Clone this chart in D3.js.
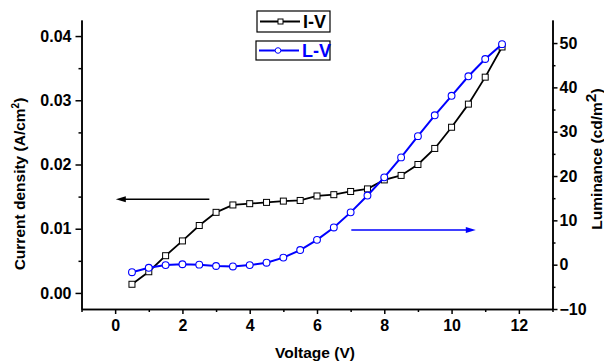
<!DOCTYPE html>
<html>
<head>
<meta charset="utf-8">
<script src="https://cdn.jsdelivr.net/npm/d3@7"></script>
<style>
  body { margin: 0; background: #fff; }
  text { font-family: Arial, "Liberation Sans", sans-serif; font-weight: bold; }
</style>
</head>
<body>
<div id="vis-container"></div>
<script>
// Data
const voltage = [0.5, 1, 1.5, 2, 2.5, 3, 3.5, 4, 4.5, 5, 5.5, 6, 6.5, 7, 7.5, 8, 8.5, 9, 9.5, 10, 10.5, 11, 11.5];
const currentDensity = [0.00135, 0.0033, 0.0058, 0.0081, 0.0105, 0.01255, 0.0137, 0.0139, 0.0141, 0.0143, 0.0144, 0.0151,
                        0.0153, 0.0158, 0.0162, 0.0176, 0.0183, 0.0200, 0.0225, 0.0258, 0.0294, 0.0336, 0.0383];
const luminance = [-1.7, -0.7, -0.1, 0.1, 0.0, -0.3, -0.4, -0.1, 0.45, 1.6, 3.3, 5.6,
                   8.4, 11.8, 15.6, 19.7, 24.2, 29.0, 33.7, 38.1, 42.5, 46.4, 49.75];

const xTicks = [0, 2, 4, 6, 8, 10, 12];
const xMinor = [-1, 1, 3, 5, 7, 9, 11, 13];
const jTicks = [0.00, 0.01, 0.02, 0.03, 0.04];
const jMinor = [0.005, 0.015, 0.025, 0.035];
const lTicks = [-10, 0, 10, 20, 30, 40, 50];
const lMinor = [-5, 5, 15, 25, 35, 45];

// arrows pointing to each series' axis (data coords)
const arrowIV = { y: 0.0146, x1: 2.8, x2: 0.02 };
const arrowLV = { y: 7.8, x1: 7.02, x2: 10.72 };

const W = 604, H = 362;
const plot = { left: 81.5, right: 552.5, top: 20, bottom: 309 };

const svg = d3.select("#vis-container")
  .append("svg")
    .attr("width", W)
    .attr("height", H);

const x = d3.scaleLinear().domain([-1, 13]).range([plot.left, plot.right]);
const yL = d3.scaleLinear().domain([-0.0025, 0.0425]).range([plot.bottom, plot.top]);
const yR = d3.scaleLinear().domain([-10, 55.2]).range([plot.bottom, plot.top]);

const blue = "#0000ff";

function styleAxis(g) {
  g.selectAll("path, line").attr("stroke", "#000").attr("stroke-width", 1.5);
  g.selectAll("text").style("font-size", "16px").style("font-weight", "bold").attr("fill", "#000");
}

// Axes
svg.append("g")
  .attr("transform", `translate(0,${plot.bottom})`)
  .call(d3.axisBottom(x).tickValues(xTicks).tickSize(5).tickSizeOuter(0).tickPadding(6).tickFormat(d3.format("d")))
  .call(styleAxis);
svg.append("g")
  .attr("transform", `translate(0,${plot.bottom})`)
  .call(d3.axisBottom(x).tickValues(xMinor).tickSize(3).tickSizeOuter(0).tickFormat(""))
  .call(styleAxis);

svg.append("g")
  .attr("transform", `translate(${plot.left},0)`)
  .call(d3.axisLeft(yL).tickValues(jTicks).tickSize(6).tickSizeOuter(0).tickPadding(4).tickFormat(d3.format(".2f")))
  .call(styleAxis);
svg.append("g")
  .attr("transform", `translate(${plot.left},0)`)
  .call(d3.axisLeft(yL).tickValues(jMinor).tickSize(3).tickSizeOuter(0).tickFormat(""))
  .call(styleAxis);

svg.append("g")
  .attr("transform", `translate(${plot.right},0)`)
  .call(d3.axisRight(yR).tickValues(lTicks).tickSize(5).tickSizeOuter(0).tickPadding(2).tickFormat(d3.format("d")))
  .call(styleAxis);
svg.append("g")
  .attr("transform", `translate(${plot.right},0)`)
  .call(d3.axisRight(yR).tickValues(lMinor).tickSize(3).tickSizeOuter(0).tickFormat(""))
  .call(styleAxis);

// Axis titles
svg.append("text")
  .attr("x", (plot.left + plot.right) / 2 - 2)
  .attr("y", 358)
  .attr("text-anchor", "middle")
  .style("font-size", "15.5px")
  .text("Voltage (V)");

const leftTitle = svg.append("text")
  .attr("transform", `translate(25,184) rotate(-90)`)
  .attr("text-anchor", "middle")
  .style("font-size", "15.5px");
leftTitle.append("tspan").text("Current density (A/cm");
leftTitle.append("tspan").attr("dy", -6).style("font-size", "10px").text("2");
leftTitle.append("tspan").attr("dy", 6).text(")");

const rightTitle = svg.append("text")
  .attr("transform", `translate(602,159) rotate(-90)`)
  .attr("text-anchor", "middle")
  .style("font-size", "15.5px");
rightTitle.append("tspan").text("Luminance (cd/m");
rightTitle.append("tspan").attr("dy", -6).text("2");
rightTitle.append("tspan").attr("dy", 6).text(")");

// Lines
const lineIV = d3.line().x((d, i) => x(voltage[i])).y(d => yL(d));
const lineLV = d3.line().x((d, i) => x(voltage[i])).y(d => yR(d));

svg.append("path")
  .datum(currentDensity)
  .attr("fill", "none")
  .attr("stroke", "#000")
  .attr("stroke-width", 1.8)
  .attr("d", lineIV);

svg.selectAll("rect.iv")
  .data(currentDensity)
  .join("rect")
    .attr("class", "iv")
    .attr("x", (d, i) => x(voltage[i]) - 3)
    .attr("y", d => yL(d) - 3)
    .attr("width", 6)
    .attr("height", 6)
    .attr("fill", "#fff")
    .attr("stroke", "#000")
    .attr("stroke-width", 1);

svg.append("path")
  .datum(luminance)
  .attr("fill", "none")
  .attr("stroke", blue)
  .attr("stroke-width", 2)
  .attr("d", lineLV);

svg.selectAll("circle.lv")
  .data(luminance)
  .join("circle")
    .attr("class", "lv")
    .attr("cx", (d, i) => x(voltage[i]))
    .attr("cy", d => yR(d))
    .attr("r", 3.4)
    .attr("fill", "#fff")
    .attr("stroke", blue)
    .attr("stroke-width", 1.1);

// Arrows
function arrow(x1, x2, y, color) {
  const dir = Math.sign(x2 - x1);
  svg.append("line")
    .attr("x1", x1).attr("x2", x2 - dir * 8)
    .attr("y1", y).attr("y2", y)
    .attr("stroke", color).attr("stroke-width", 1.5);
  svg.append("path")
    .attr("d", `M${x2},${y} L${x2 - dir * 10},${y - 3} L${x2 - dir * 10},${y + 3} Z`)
    .attr("fill", color);
}
arrow(x(arrowIV.x1), x(arrowIV.x2), yL(arrowIV.y), "#000");
arrow(x(arrowLV.x1), x(arrowLV.x2), yR(arrowLV.y), blue);

// Legend
const legend = [
  { label: "I-V", color: "#000", shape: "square", box: [257, 11, 73, 21] },
  { label: "L-V", color: blue, shape: "circle", box: [256, 41, 74, 19] }
];
legend.forEach(l => {
  const [bx, by, bw, bh] = l.box;
  const g = svg.append("g");
  g.append("rect")
    .attr("x", bx).attr("y", by).attr("width", bw).attr("height", bh)
    .attr("fill", "#fff").attr("stroke", "#000").attr("stroke-width", 1.2);
  const cy = by + bh / 2;
  g.append("line")
    .attr("x1", bx + 3).attr("x2", bx + 43)
    .attr("y1", cy).attr("y2", cy)
    .attr("stroke", l.color).attr("stroke-width", 2.2);
  if (l.shape === "square") {
    g.append("rect")
      .attr("x", bx + 21).attr("y", cy - 2.5).attr("width", 5).attr("height", 5)
      .attr("fill", "#fff").attr("stroke", "#000").attr("stroke-width", 1);
  } else {
    g.append("circle")
      .attr("cx", bx + 22).attr("cy", cy).attr("r", 2.8)
      .attr("fill", "#fff").attr("stroke", blue).attr("stroke-width", 1);
  }
  g.append("text")
    .attr("x", bx + 46).attr("y", cy + 6.5)
    .attr("fill", l.color)
    .style("font-size", "18px")
    .text(l.label);
});
</script>
</body>
</html>
